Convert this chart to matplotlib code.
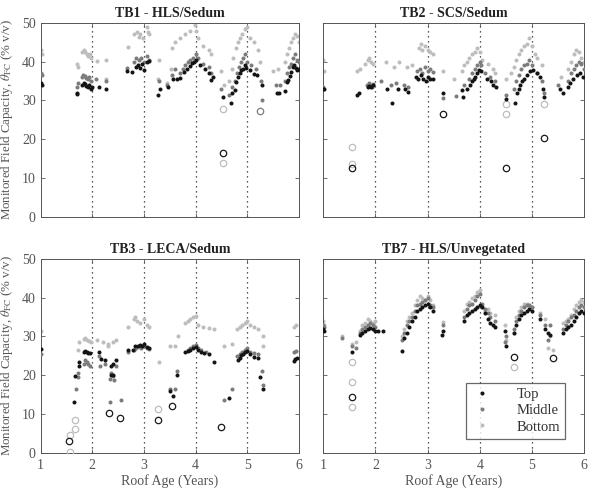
import matplotlib
matplotlib.use("Agg")
import matplotlib.pyplot as plt
from matplotlib.lines import Line2D

plt.rcParams['font.family'] = ['Liberation Serif', 'DejaVu Serif']
plt.rcParams['mathtext.fontset'] = 'stix'

titles = ["TB1 - HLS/Sedum", "TB2 - SCS/Sedum", "TB3 - LECA/Sedum", "TB7 - HLS/Unvegetated"]
series_names = ["Top", "Middle", "Bottom"]

# ---------------- TB1 ----------------
tb1_top_x = [1.00, 1.03, 1.71, 1.71, 1.80, 1.83, 1.86, 1.88, 1.91, 1.94, 1.97, 2.00, 2.12, 2.27,
             2.68, 2.77, 2.84, 2.88, 2.92, 2.96, 3.00, 3.05, 3.09, 3.28, 3.31, 3.46, 3.56, 3.63, 3.70,
             3.78, 3.84, 3.89, 3.93, 3.97, 4.01, 4.08, 4.18, 4.25, 4.30, 4.34, 4.52, 4.68, 4.70,
             4.76, 4.79, 4.82, 4.85, 4.88, 4.91, 4.95, 4.98, 5.05, 5.13, 5.18, 5.28, 5.57, 5.62,
             5.73, 5.76, 5.79, 5.82, 5.85, 5.88, 5.91, 5.94, 5.97, 6.00]
tb1_top_y = [34.5, 34.0, 32.0, 31.6, 34.0, 34.5, 34.2, 33.8, 33.5, 34.0, 33.0, 33.5, 33.5, 33.0,
             37.5, 37.3, 38.5, 39.0, 38.3, 39.3, 37.8, 40.0, 40.2, 31.5, 33.0, 33.5, 35.5, 35.6, 35.8,
             37.4, 38.2, 38.8, 39.6, 40.0, 40.4, 39.0, 38.0, 37.0, 35.2, 36.0, 30.9, 29.4, 31.8,
             32.8, 34.8, 36.0, 37.0, 37.8, 38.2, 39.0, 38.3, 37.8, 36.8, 36.5, 33.9, 32.0, 32.0,
             32.4, 34.8, 35.3, 36.2, 37.4, 38.5, 39.0, 38.3, 37.8, 38.0]
tb1_mid_x = [1.00, 1.03, 1.70, 1.72, 1.80, 1.82, 1.85, 1.88, 1.91, 1.94, 1.97, 2.08, 2.26,
             2.68, 2.80, 2.85, 2.90, 2.95, 3.00, 3.05, 3.10, 3.30, 3.45, 3.55, 3.60,
             3.70, 3.75, 3.80, 3.85, 3.90, 3.95, 4.00, 4.05, 4.15, 4.25, 4.30, 4.50, 4.65, 4.70,
             4.76, 4.80, 4.84, 4.88, 4.92, 4.96, 5.00, 5.08, 5.17, 5.27, 5.28, 5.55, 5.63,
             5.73, 5.77, 5.80, 5.84, 5.88, 5.92, 5.96, 6.00]
tb1_mid_y = [37.0, 36.5, 33.5, 34.5, 36.0, 36.5, 36.3, 35.8, 35.5, 36.0, 35.0, 35.5, 35.0,
             38.3, 40.0, 41.0, 40.5, 41.0, 40.0, 41.5, 40.5, 35.0, 34.0, 36.5, 38.0,
             37.0, 38.0, 39.0, 40.0, 40.5, 41.0, 42.0, 40.8, 39.5, 38.5, 37.0, 33.0, 31.5, 33.5,
             35.0, 37.0, 38.5, 40.0, 41.0, 42.0, 40.0, 39.0, 38.0, 35.0, 30.0, 34.0, 34.0,
             35.0, 37.0, 38.5, 39.5, 41.0, 42.0, 40.5, 40.0]
tb1_bot_x = [1.00, 1.03, 1.70, 1.73, 1.80, 1.83, 1.86, 1.89, 1.92, 1.95, 1.98, 2.10, 2.26, 2.26,
             2.70, 2.80, 2.87, 2.90, 2.93, 2.99, 3.05, 3.08, 3.10, 3.28, 3.30,
             3.45, 3.52, 3.55, 3.60, 3.70, 3.80, 3.90, 3.98, 4.00, 4.05, 4.15, 4.25, 4.30,
             4.50, 4.55, 4.65, 4.70, 4.72, 4.78, 4.82, 4.86, 4.90, 4.95, 4.99, 5.05, 5.12, 5.20, 5.25,
             5.50, 5.60, 5.73, 5.76, 5.80, 5.84, 5.88, 5.92, 5.96, 6.00]
tb1_bot_y = [43.0, 42.0, 39.5, 38.5, 42.5, 43.0, 42.5, 42.0, 41.5, 42.0, 41.0, 40.2, 40.5, 35.4,
             43.8, 47.2, 47.7, 46.4, 47.2, 46.0, 49.0, 47.7, 47.2, 35.5, 40.5,
             34.5, 38.0, 43.5, 45.0, 46.0, 47.0, 48.0, 49.5, 48.0, 46.0, 44.0, 43.0, 42.0,
             37.5, 34.0, 35.0, 38.0, 41.0, 43.5, 45.0, 46.0, 47.0, 48.5, 49.0, 46.0, 45.0, 43.0, 40.0,
             37.5, 38.0, 40.0, 42.0, 43.5, 45.0, 46.0, 47.0, 46.5, 45.0]
tb1_out_top_x, tb1_out_top_y = [4.52], [16.5]
tb1_out_mid_x, tb1_out_mid_y = [5.25], [27.2]
tb1_out_bot_x, tb1_out_bot_y = [4.52, 4.52], [27.9, 13.9]

# ---------------- TB2 ----------------
tb2_top_x = [1.00, 1.02, 1.65, 1.68, 1.85, 1.88, 1.92, 1.95, 2.23, 2.31, 2.44, 2.57, 2.63,
             2.78, 2.82, 2.87, 2.92, 2.96, 3.00, 3.05, 3.10, 3.30,
             3.66, 3.67, 3.75, 3.81, 3.85, 3.88, 3.91, 3.94, 3.99, 4.03, 4.13, 4.22, 4.26, 4.31,
             4.50, 4.68, 4.71, 4.75, 4.78, 4.81, 4.84, 4.90, 4.97, 5.03, 5.10, 5.16, 5.22, 5.23,
             5.53, 5.60, 5.70, 5.73, 5.79, 5.86, 5.92, 5.98]
tb2_top_y = [33.0, 33.0, 31.5, 32.0, 33.5, 33.8, 33.5, 34.0, 33.0, 29.2, 33.0, 33.0, 32.2,
             36.0, 35.5, 36.5, 35.5, 35.0, 36.0, 35.5, 35.5, 31.9,
             32.6, 30.8, 33.0, 34.0, 35.0, 35.4, 36.0, 37.0, 37.8, 37.5, 35.5, 35.0, 34.0, 33.5,
             30.3, 29.4, 32.0, 33.0, 34.0, 35.0, 35.5, 36.5, 37.5, 37.8, 37.0, 36.0, 33.0, 30.8,
             33.0, 31.8, 33.5, 34.5, 35.5, 36.5, 37.0, 36.0]
tb2_mid_x = [1.00, 1.84, 1.87, 1.90, 1.93, 1.96, 2.10, 2.30, 2.40, 2.55, 2.63,
             2.80, 2.85, 2.90, 2.95, 3.00, 3.05, 3.10, 3.30, 3.55,
             3.70, 3.80, 3.85, 3.90, 3.95, 4.00, 4.02, 4.10, 4.20, 4.30,
             4.50, 4.65, 4.70, 4.75, 4.80, 4.85, 4.90, 4.95, 5.00, 5.10, 5.20, 5.23,
             5.50, 5.70, 5.75, 5.80, 5.85, 5.90, 5.95, 6.00]
tb2_mid_y = [33.5, 34.0, 34.5, 34.0, 33.5, 34.2, 35.0, 34.0, 34.5, 34.0, 33.5,
             37.5, 38.0, 37.0, 38.5, 37.5, 38.0, 37.2, 30.5, 31.0,
             34.0, 35.5, 37.0, 38.0, 39.0, 40.0, 39.0, 37.0, 36.0, 35.0,
             31.5, 33.0, 35.0, 36.5, 38.0, 39.0, 39.5, 40.5, 39.0, 37.0, 35.0, 32.0,
             34.0, 35.0, 37.0, 38.0, 39.0, 40.0, 39.5, 38.0]
tb2_bot_x = [1.00, 1.02, 1.65, 1.70, 1.80, 1.85, 1.88, 1.92, 1.95, 2.20, 2.35, 2.45, 2.60, 2.70,
             2.83, 2.87, 2.90, 2.95, 3.00, 3.05, 3.10, 3.30, 3.50,
             3.65, 3.70, 3.75, 3.80, 3.85, 3.90, 3.95, 4.00, 4.05, 4.15, 4.25, 4.30,
             4.50, 4.60, 4.65, 4.70, 4.75, 4.80, 4.85, 4.90, 4.95, 5.00, 5.05, 5.10, 5.20,
             5.55, 5.70, 5.75, 5.80, 5.85, 5.90, 5.95, 6.00]
tb2_bot_y = [40.4, 37.5, 37.5, 38.0, 39.5, 40.5, 41.0, 40.0, 39.5, 40.0, 38.5, 40.0, 38.5, 39.0,
             43.5, 44.5, 43.0, 44.0, 43.0, 42.5, 42.0, 37.5, 35.5,
             37.5, 39.0, 40.0, 41.0, 42.0, 42.5, 43.5, 42.5, 40.5, 39.5, 38.0, 37.0,
             35.5, 37.0, 38.5, 40.5, 42.0, 43.0, 44.0, 44.5, 46.0, 44.0, 42.0, 41.0, 39.0,
             36.0, 38.0, 40.0, 42.0, 43.0, 42.5, 41.0, 40.0]
tb2_out_top_x, tb2_out_top_y = [1.54, 3.29, 4.50, 5.23], [12.5, 26.6, 12.5, 20.3]
tb2_out_mid_x, tb2_out_mid_y = [], []
tb2_out_bot_x, tb2_out_bot_y = [1.54, 1.54, 4.50, 4.50, 5.23], [17.9, 13.7, 29.0, 26.6, 29.0]

# ---------------- TB3 ----------------
tb3_top_x = [1.00, 1.65, 1.67, 1.75, 1.75, 1.83, 1.86, 1.89, 1.92, 1.95,
             2.13, 2.17, 2.25, 2.37, 2.37, 2.40, 2.40, 2.46,
             2.70, 2.78, 2.83, 2.88, 2.93, 2.97, 3.00, 3.05, 3.10, 3.50, 3.57, 3.63,
             3.80, 3.85, 3.90, 3.95, 4.00, 4.05, 4.10, 4.17, 4.25, 4.35, 4.65,
             4.82, 4.85, 4.88, 4.92, 4.95, 5.00, 5.05, 5.12, 5.20, 5.25, 5.30, 5.90, 5.93, 5.97]
tb3_top_y = [26.7, 13.0, 19.8, 22.5, 23.3, 26.0, 26.2, 26.0, 25.8, 25.7,
             26.0, 24.2, 24.0, 22.5, 20.0, 20.0, 23.0, 24.0,
             26.5, 26.5, 27.5, 27.5, 27.8, 27.5, 28.0, 27.2, 27.0, 15.9, 14.7, 20.0,
             26.0, 26.2, 26.5, 27.0, 27.2, 26.5, 26.0, 25.7, 25.5, 23.5, 14.0,
             24.0, 24.5, 25.2, 25.5, 26.0, 26.2, 25.5, 24.8, 24.5, 19.5, 16.5, 23.7, 24.3, 24.5]
tb3_mid_x = [1.00, 1.68, 1.72, 1.73, 1.83, 1.86, 1.89, 1.92, 1.95,
             2.13, 2.15, 2.25, 2.35, 2.37, 2.40, 2.42, 2.45, 2.35, 2.55,
             2.70, 2.80, 2.85, 2.90, 2.95, 3.00, 3.05, 3.10, 3.50, 3.60, 3.63,
             3.85, 3.90, 3.95, 4.00, 4.05, 4.10, 4.20, 4.55, 4.70,
             4.80, 4.85, 4.90, 4.95, 5.00, 5.05, 5.12, 5.20, 5.30, 5.28, 5.90, 5.95]
tb3_mid_y = [25.5, 16.5, 19.5, 20.5, 23.0, 24.0, 23.5, 23.0, 22.5,
             25.0, 22.5, 22.8, 19.0, 20.5, 19.8, 18.8, 22.5, 13.0, 13.5,
             26.0, 26.5, 27.0, 27.5, 27.0, 27.5, 27.0, 26.8, 16.5, 16.5, 21.0,
             26.5, 27.0, 27.5, 27.8, 27.0, 26.5, 26.0, 13.5, 16.5,
             25.0, 25.5, 26.0, 26.5, 27.0, 26.0, 25.8, 25.5, 17.5, 21.0, 26.0, 26.2]
tb3_bot_x = [1.00, 1.72, 1.75, 1.83, 1.86, 1.90, 1.93, 1.97,
             2.10, 2.20, 2.30, 2.40, 2.45, 2.30,
             2.70, 2.80, 2.83, 2.87, 2.92, 3.00, 3.05, 3.10, 3.30, 3.50, 3.60, 3.65,
             3.80, 3.85, 3.90, 3.95, 4.00, 4.05, 4.15, 4.25, 4.35, 4.55, 4.70,
             4.80, 4.85, 4.90, 4.95, 5.00, 5.05, 5.12, 5.20, 5.30, 5.30, 5.90, 5.95]
tb3_bot_y = [31.5, 26.5, 28.5, 29.3, 29.5, 29.0, 28.8, 28.5,
             29.0, 28.5, 28.0, 28.5, 29.2, 27.5,
             32.5, 34.5, 35.0, 34.0, 33.5, 34.5, 33.0, 32.5, 23.5, 27.5, 27.5, 30.0,
             33.5, 34.0, 34.5, 35.0, 35.3, 33.0, 32.5, 32.3, 32.0, 27.5, 28.0,
             32.0, 32.5, 33.0, 33.5, 34.0, 33.0, 32.5, 32.0, 30.0, 27.5, 32.5, 33.0]
tb3_out_top_x, tb3_out_top_y = [1.55, 2.32, 2.53, 3.28, 3.55, 4.50], [2.9, 10.3, 8.9, 8.5, 12.1, 6.7]
tb3_out_mid_x, tb3_out_mid_y = [], []
tb3_out_bot_x, tb3_out_bot_y = [1.57, 1.57, 1.66, 1.66, 3.28], [4.6, 0.3, 8.4, 6.0, 11.2]

# ---------------- TB7 ----------------
tb7_top_x = [1.00, 1.02, 1.55, 1.70, 1.75, 1.80, 1.85, 1.90, 1.95, 2.00, 2.05, 2.15,
             2.50, 2.55, 2.60, 2.65, 2.70, 2.75, 2.80, 2.85, 2.90, 2.95, 3.00, 3.05, 3.10, 3.28, 3.30,
             3.70, 3.75, 3.80, 3.85, 3.90, 3.95, 4.00, 4.05, 4.10, 4.15, 4.20, 4.25, 4.30,
             4.50, 4.48, 4.65, 4.70, 4.75, 4.80, 4.85, 4.90, 4.95, 5.00,
             5.15, 5.25, 5.30, 5.35, 5.60, 5.65, 5.70, 5.75, 5.80, 5.85, 5.90, 5.95, 6.00]
tb7_top_y = [32.0, 31.5, 26.0, 30.4, 31.0, 31.5, 32.0, 32.3, 32.0, 31.5, 31.5, 31.3,
             26.2, 29.5, 31.0, 32.5, 34.0, 35.0, 36.5, 37.0, 37.5, 38.0, 38.5, 37.5, 36.5, 30.5, 31.5,
             34.0, 35.5, 36.0, 36.5, 37.0, 37.5, 38.0, 37.5, 36.0, 34.5, 33.5, 33.0, 32.5,
             27.6, 31.5, 31.0, 33.0, 34.5, 35.5, 36.0, 36.5, 37.0, 36.5,
             34.5, 32.0, 31.0, 30.5, 31.0, 32.0, 32.5, 33.0, 34.0, 35.0, 36.0, 36.5, 36.0]
tb7_mid_x = [1.00, 1.02, 1.35, 1.55, 1.62, 1.70, 1.75, 1.80, 1.85, 1.90, 1.95, 2.00,
             2.50, 2.55, 2.60, 2.65, 2.70, 2.75, 2.80, 2.85, 2.90, 2.95, 3.00, 3.05, 3.10, 3.30,
             3.70, 3.75, 3.80, 3.85, 3.90, 3.95, 4.00, 4.05, 4.10, 4.15, 4.20, 4.30,
             4.50, 4.48, 4.65, 4.70, 4.75, 4.80, 4.85, 4.90, 4.95, 5.00,
             5.15, 5.25, 5.30, 5.35, 5.60, 5.65, 5.70, 5.75, 5.80, 5.85, 5.90, 5.95, 6.00]
tb7_mid_y = [33.0, 32.5, 29.5, 27.5, 27.0, 31.0, 32.0, 32.5, 33.0, 33.5, 33.0, 32.5,
             29.0, 31.0, 33.0, 34.0, 35.0, 36.5, 38.0, 38.5, 39.0, 39.5, 40.0, 38.0, 37.5, 33.0,
             35.0, 37.0, 38.0, 38.5, 39.5, 40.5, 41.0, 38.5, 37.0, 36.0, 35.0, 34.0,
             30.0, 28.5, 32.0, 34.0, 35.5, 36.5, 37.5, 38.0, 38.0, 37.5,
             35.5, 33.0, 29.0, 33.0, 32.0, 33.0, 34.0, 35.0, 35.5, 36.5, 37.5, 38.0, 37.5]
tb7_bot_x = [1.00, 1.02, 1.35, 1.55, 1.62, 1.70, 1.75, 1.80, 1.85, 1.90, 1.95, 2.00,
             2.50, 2.55, 2.60, 2.65, 2.70, 2.75, 2.80, 2.85, 2.90, 2.95, 3.00, 3.05, 3.10, 3.30,
             3.70, 3.75, 3.80, 3.85, 3.90, 3.95, 4.00, 4.05, 4.10, 4.15, 4.20, 4.30,
             4.50, 4.48, 4.65, 4.70, 4.75, 4.80, 4.85, 4.90, 4.95, 5.00,
             5.15, 5.25, 5.30, 5.40, 5.35, 5.60, 5.65, 5.70, 5.75, 5.80, 5.85, 5.90, 5.95, 6.00]
tb7_bot_y = [34.0, 33.0, 30.0, 28.0, 28.5, 31.5, 33.0, 33.5, 34.5, 34.0, 33.5, 34.0,
             30.0, 32.0, 34.0, 35.0, 36.0, 38.0, 39.5, 40.5, 40.0, 39.5, 40.5, 39.5, 38.0, 33.8,
             36.5, 38.5, 39.0, 40.0, 40.5, 41.5, 42.0, 37.5, 36.5, 37.0, 36.0, 35.5,
             29.0, 33.0, 31.0, 35.0, 36.5, 37.5, 38.5, 38.5, 38.0, 37.5,
             36.0, 34.5, 27.0, 26.5, 30.0, 33.5, 34.0, 34.5, 35.5, 37.0, 38.0, 39.0, 39.5, 39.0]
tb7_out_top_x, tb7_out_top_y = [1.54, 4.66, 5.40], [14.5, 24.6, 24.4]
tb7_out_mid_x, tb7_out_mid_y = [], []
tb7_out_bot_x, tb7_out_bot_y = [1.54, 1.54, 1.54, 4.66], [23.5, 18.2, 11.9, 22.0]

year_lines = [2, 3, 4, 5]
x_ticks = [1, 2, 3, 4, 5, 6]
y_ticks = [0, 10, 20, 30, 40, 50]

colors = {"Top": "#141414", "Middle": "#7c7c7c", "Bottom": "#bdbdbd"}

panels = [
    (tb1_top_x, tb1_top_y, tb1_mid_x, tb1_mid_y, tb1_bot_x, tb1_bot_y,
     tb1_out_top_x, tb1_out_top_y, tb1_out_mid_x, tb1_out_mid_y, tb1_out_bot_x, tb1_out_bot_y),
    (tb2_top_x, tb2_top_y, tb2_mid_x, tb2_mid_y, tb2_bot_x, tb2_bot_y,
     tb2_out_top_x, tb2_out_top_y, tb2_out_mid_x, tb2_out_mid_y, tb2_out_bot_x, tb2_out_bot_y),
    (tb3_top_x, tb3_top_y, tb3_mid_x, tb3_mid_y, tb3_bot_x, tb3_bot_y,
     tb3_out_top_x, tb3_out_top_y, tb3_out_mid_x, tb3_out_mid_y, tb3_out_bot_x, tb3_out_bot_y),
    (tb7_top_x, tb7_top_y, tb7_mid_x, tb7_mid_y, tb7_bot_x, tb7_bot_y,
     tb7_out_top_x, tb7_out_top_y, tb7_out_mid_x, tb7_out_mid_y, tb7_out_bot_x, tb7_out_bot_y),
]

fig = plt.figure(figsize=(5.89, 4.92), dpi=100)
positions = [
    [0.069, 0.5596, 0.4386, 0.394],
    [0.549, 0.5596, 0.4426, 0.394],
    [0.069, 0.0799, 0.4386, 0.3937],
    [0.549, 0.0799, 0.4426, 0.3937],
]

ylabel = r'Monitored Field Capacity, $\theta_{\mathrm{FC}}$ (% v/v)'
dot_ms = 2.9
axes = []
for i, (pos, data) in enumerate(zip(positions, panels)):
    ax = fig.add_axes(pos)
    axes.append(ax)
    tx, ty, mx, my, bx, by, otx, oty, omx, omy, obx, oby = data
    for xv in year_lines:
        ax.axvline(xv, color='#222222', linestyle=(0, (1, 3)), linewidth=0.9, zorder=1)
    ax.plot(bx, by, linestyle='none', marker='o', markersize=dot_ms, color=colors["Bottom"],
            markeredgewidth=0, zorder=2)
    ax.plot(mx, my, linestyle='none', marker='o', markersize=dot_ms, color=colors["Middle"],
            markeredgewidth=0, zorder=3)
    ax.plot(tx, ty, linestyle='none', marker='o', markersize=dot_ms, color=colors["Top"],
            markeredgewidth=0, zorder=4)
    ax.plot(obx, oby, linestyle='none', marker='o', markersize=4.6, markerfacecolor='none',
            markeredgecolor=colors["Bottom"], markeredgewidth=0.9, zorder=3)
    ax.plot(omx, omy, linestyle='none', marker='o', markersize=4.6, markerfacecolor='none',
            markeredgecolor=colors["Middle"], markeredgewidth=0.9, zorder=3)
    ax.plot(otx, oty, linestyle='none', marker='o', markersize=4.6, markerfacecolor='none',
            markeredgecolor='#1a1a1a', markeredgewidth=0.9, zorder=4)
    ax.set_xlim(1, 6)
    ax.set_ylim(0, 50)
    ax.set_xticks(x_ticks)
    ax.set_yticks(y_ticks)
    ax.tick_params(direction='in', top=True, right=True, length=3, width=0.6,
                   labelsize=10, colors='#555555', labelcolor='#555555')
    ax.tick_params(axis='x', pad=4.5)
    for sp in ax.spines.values():
        sp.set_color('#555555')
        sp.set_linewidth(0.7)
    ax.set_title(titles[i], fontsize=10, fontweight='bold', color='#222222', pad=4)
    if i in (0, 2):
        ax.set_ylabel(ylabel, fontsize=9.3, color='#555555', labelpad=5)
    else:
        ax.tick_params(labelleft=False)
    if i in (2, 3):
        ax.set_xlabel('Roof Age (Years)', fontsize=10, color='#555555', labelpad=1.5)
    else:
        ax.tick_params(labelbottom=False)

handles = [Line2D([], [], linestyle='none', marker='o', markersize=dot_ms, color=colors[n],
                  markeredgewidth=0) for n in series_names]
leg = axes[3].legend(handles, series_names, loc='lower right', fontsize=10.5, frameon=True,
                     fancybox=False, edgecolor='#444444', handlelength=1.5,
                     borderpad=0.35, labelspacing=0.2, handletextpad=1.6,
                     bbox_to_anchor=(0.955, 0.035))
leg.get_frame().set_linewidth(0.9)
for t in leg.get_texts():
    t.set_color('#333333')

fig.savefig('out.png', dpi=100)
